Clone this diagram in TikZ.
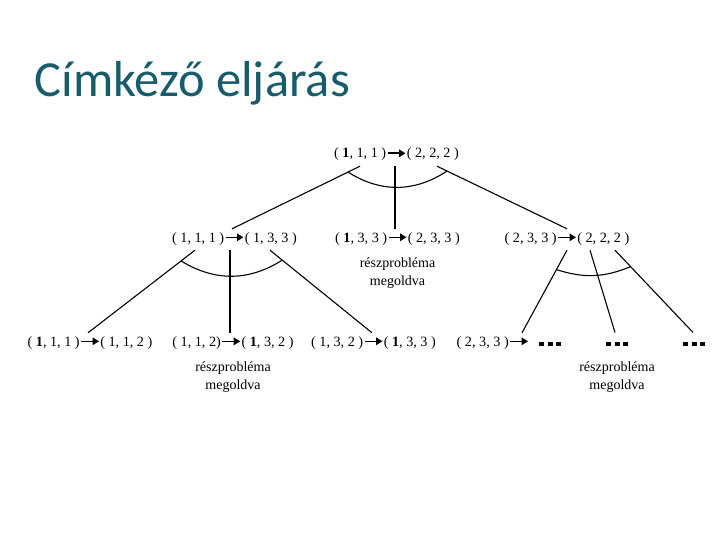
\documentclass[tikz,border=0pt]{standalone}
\usepackage{fontspec}
\setmainfont{Liberation Serif}
\newfontfamily\titlefont{Carlito}
\usetikzlibrary{positioning, arrows.meta}

\definecolor{titleteal}{RGB}{24,92,108}

\newcommand{\tto}{\hspace{0.5pt}\tikz[baseline=-4.7pt]\draw[line width=1.6pt,-{Triangle[length=6.5pt,width=7.5pt]}] (0,0) -- (18pt,0);\hspace{0.5pt}}
\newcommand{\sqdots}{\rule{5pt}{4pt}\hspace{3.5pt}\rule{5pt}{4pt}\hspace{3.5pt}\rule{5pt}{4pt}}

\begin{document}
\begin{tikzpicture}[x=1pt, y=-1pt, line width=1.1pt,
  tuple/.style={inner sep=2pt, text height=11pt, text depth=6pt, anchor=base, font=\fontsize{14.2}{18}\selectfont},
  note/.style={inner sep=0pt, align=center, font=\fontsize{14}{18}\selectfont},
  title/.style={inner sep=0pt, anchor=base west, text=titleteal, font=\titlefont\fontsize{50.5}{56}\selectfont}]

    \useasboundingbox (0,0) rectangle (720,540);

    \node[title] (ttl) at (34,96.5) {Címkéző eljárás};

    % root
    \node[tuple] (t) at (396.5,158) {( \textbf{1}, 1, 1 )\tto( 2, 2, 2 )};

    % first level
    \node[tuple] (a1) at (234.5,242) {( 1, 1, 1 )\tto( 1, 3, 3 )};
    \node[tuple] (a2) at (397.5,242) {( \textbf{1}, 3, 3 )\tto( 2, 3, 3 )};
    \node[tuple] (a3) at (567,242) {( 2, 3, 3 )\tto( 2, 2, 2 )};
    \node[note, below=7pt of a2] (n2) {részprobléma\\megoldva};

    % second level
    \node[tuple] (b1) at (90,346) {( \textbf{1}, 1, 1 )\tto( 1, 1, 2 )};
    \node[tuple] (b2) at (233,346) {( 1, 1, 2)\tto( \textbf{1}, 3, 2 )};
    \node[tuple] (b3) at (373.5,346) {( 1, 3, 2 )\tto( \textbf{1}, 3, 3 )};
    \node[tuple] (b4) at (509,346) {( 2, 3, 3 )\tto\hspace{10pt}\sqdots};
    \node[tuple] (b5) at (617,346) {\sqdots};
    \node[tuple] (b6) at (694,346) {\sqdots};
    \node[note, below=7pt of b2] (n4) {részprobléma\\megoldva};
    \node[note, below=7pt of b5] (n8) {részprobléma\\megoldva};

    % edges
    \draw ([xshift=-36.5pt]t.south) -- coordinate[pos=.094] (t1) ([xshift=-2.5pt]a1.north);
    \draw ([xshift=-1.5pt]t.south) -- ([xshift=-2.5pt]a2.north);
    \draw ([xshift=40.5pt]t.south) -- coordinate[pos=.077] (t3) (a3.north);
    \draw (t1) to[bend right=33] (t3);

    \draw ([xshift=-39.5pt]a1.south) -- coordinate[pos=.13] (a11) ([xshift=-2pt]b1.north);
    \draw ([xshift=-4.5pt]a1.south) -- ([xshift=-3pt]b2.north);
    \draw ([xshift=35.5pt]a1.south) -- coordinate[pos=.12] (a13) ([xshift=-1.5pt]b3.north);
    \draw (a11) to[bend right=32] (a13);

    \draw (a3.south) -- coordinate[pos=.235] (a31) ([xshift=13pt]b4.north);
    \draw ([xshift=23pt]a3.south) -- ([xshift=-2pt]b5.north);
    \draw ([xshift=48pt]a3.south) -- coordinate[pos=.2] (a33) ([xshift=-1pt]b6.north);
    \draw (a31) to[bend right=20] (a33);

\end{tikzpicture}
\end{document}
